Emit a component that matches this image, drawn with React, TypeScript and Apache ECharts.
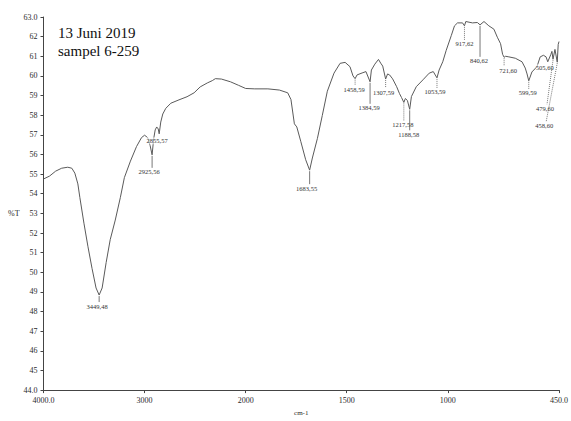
import React, { useEffect, useRef } from "react";
import * as echarts from "echarts";

// Infrared spectrum, transmittance (%T) against wavenumber (cm-1).
const spectrumWavenumbers = [
  4000, 3940, 3880, 3820, 3760, 3720, 3690, 3660, 3640, 3600, 3560, 3520, 3480,
  3420, 3380, 3340, 3290, 3240, 3200, 3140, 3080, 3030, 3000, 2970, 2945, 2910,
  2895, 2880, 2865, 2840, 2820, 2790, 2740, 2660, 2580, 2510, 2450, 2380, 2330,
  2300, 2240, 2150, 2070, 2000, 1955, 1890, 1833, 1792, 1776, 1759, 1747, 1727,
  1703, 1670, 1645, 1621, 1596, 1563, 1533, 1508, 1484, 1469, 1449, 1424, 1405,
  1378, 1361, 1343, 1332, 1322, 1298, 1288, 1273, 1253, 1239, 1229, 1210, 1200,
  1180, 1156, 1123, 1092, 1072, 1043, 1025, 1008, 983, 967, 952, 927, 911, 878,
  854, 821, 797, 772, 755, 739, 729, 714, 698, 666, 633, 617, 608, 584, 559, 543,
  527, 514, 490, 485, 470, 454, 450,
];
const spectrumTransmittance = [
  54.75, 54.9, 55.15, 55.3, 55.35, 55.3, 55.05, 54.5, 53.8, 52.5, 51.3, 50.2, 49.2,
  49.2, 50.5, 51.66, 52.66, 53.8, 54.82, 55.66, 56.4, 56.86, 56.98, 56.86, 56.45, 56.8,
  57.25, 57.4, 57.3, 57.65, 58.06, 58.35, 58.61, 58.78, 58.94, 59.14, 59.44, 59.64, 59.76,
  59.86, 59.84, 59.7, 59.52, 59.36, 59.34, 59.34, 59.28, 59.14, 58.8, 57.56, 57.4, 56.65,
  55.73, 55.82, 56.82, 57.98, 59.22, 60.14, 60.64, 60.69, 60.47, 60.0, 60.05, 60.15, 60.22,
  60.3, 60.6, 60.84, 60.65, 60.5, 60.1, 60.05, 59.85, 59.45, 59.1, 58.9, 58.85, 58.75,
  58.95, 59.45, 59.8, 60.14, 60.22, 60.3, 60.72, 61.3, 62.05, 62.55, 62.7, 62.7, 62.77, 62.7,
  62.72, 62.77, 62.55, 62.38, 61.97, 61.64, 61.1, 61.0, 60.97, 60.9, 60.72, 60.4, 60.1, 60.2, 60.47, 60.97,
  61.05, 60.97, 61.1, 61.25, 61.35, 61.6, 61.75,
];

// Picked peaks
const peakWavenumbers = [
  3449.48, 2925.56, 2855.57, 1683.55, 1458.59, 1384.59, 1307.59, 1217.58, 1188.58,
  1053.59, 917.62, 840.62, 721.6, 599.59, 505.6, 479.6, 458.6,
];
const peakTransmittance = [
  48.84, 55.98, 57.05, 55.2, 59.86, 59.7, 59.84, 58.65, 58.3,
  59.9, 62.55, 62.6, 60.95, 59.75, 60.72, 60.85, 60.7,
];

// Where each peak label sits relative to its peak, and how it is tied to it
const peakLabelLayout: [number, number, string][] = [
  [-2, 11, "solid"],
  [-3, 17, "solid"],
  [-2, 7, "none"],
  [-3, 18, "solid"],
  [-1, 11, "dotted"],
  [-1, 26, "solid"],
  [-2, 13, "dotted"],
  [-1, 22, "dotted"],
  [-1, 25, "solid"],
  [-2, 14, "dotted"],
  [0, 18, "dotted"],
  [-1, 36, "solid"],
  [4, 13, "dotted"],
  [-1, 12, "dotted"],
  [-3, 6, "none"],
  [-8, 49, "diag"],
  [-13, 63, "diag"],
];

const xTickWavenumbers = [4000, 3000, 2000, 1500, 1000, 450];
const xTickLabels = ["4000.0", "3000", "2000", "1500", "1000", "450.0"];
const yMin = 44;
const yMax = 63;

// The scale is expanded two-fold below 2000 cm-1
const BREAK = 2000;
const EXPAND = 2;
const toAxis = (w: number) => (w >= BREAK ? 4000 - w : 4000 - BREAK + EXPAND * (BREAK - w));

const SERIF = "'Liberation Serif', 'DejaVu Serif', serif";
const INK = "#2b2b2b";

export default function App() {
  const ref = useRef<HTMLDivElement>(null);

  useEffect(() => {
    if (!ref.current) return;
    const chart = echarts.init(ref.current, undefined, { renderer: "svg" });

    const points: [number, number][] = spectrumWavenumbers.map((w, i) => [w, spectrumTransmittance[i]]);
    peakWavenumbers.forEach((w, i) => points.push([w, peakTransmittance[i]]));
    points.sort((a, b) => b[0] - a[0]);
    const lineData = points.map(([w, t]) => [toAxis(w), t]);

    const tickPositions = xTickWavenumbers.map(toAxis);
    const formatX = (v: number) => {
      const i = tickPositions.findIndex((p) => Math.abs(p - v) < 1e-6);
      return i >= 0 ? xTickLabels[i] : "";
    };

    chart.setOption({
      animation: false,
      backgroundColor: "#ffffff",
      grid: { left: 43.5, right: 7, top: 17, bottom: 22 },
      xAxis: {
        type: "value",
        min: 0,
        max: toAxis(450),
        name: "cm-1",
        nameLocation: "middle",
        nameGap: 18,
        nameTextStyle: { fontFamily: SERIF, fontSize: 7, color: INK },
        axisLine: { onZero: false, lineStyle: { color: "#444", width: 1 } },
        axisTick: { customValues: tickPositions, length: 3, lineStyle: { color: "#444" } },
        axisLabel: {
          customValues: tickPositions,
          formatter: formatX,
          fontFamily: SERIF,
          fontSize: 8,
          color: INK,
          margin: 6,
        },
        splitLine: { show: false },
      },
      yAxis: {
        type: "value",
        min: yMin,
        max: yMax,
        interval: 1,
        axisLine: { show: true, lineStyle: { color: "#444", width: 1 } },
        axisTick: { show: true, length: 3, lineStyle: { color: "#444" } },
        axisLabel: {
          formatter: (v: number) => (v === yMin || v === yMax ? v.toFixed(1) : String(v)),
          fontFamily: SERIF,
          fontSize: 8,
          color: INK,
          margin: 6,
          padding: [0, 0, 5, 0],
        },
        splitLine: { show: false },
      },
      graphic: [
        {
          type: "text",
          left: 58,
          top: 25,
          style: { text: "13 Juni 2019", font: `15px ${SERIF}`, fill: "#111" },
        },
        {
          type: "text",
          left: 58,
          top: 43,
          style: { text: "sampel 6-259", font: `15px ${SERIF}`, fill: "#111" },
        },
        {
          type: "text",
          left: 8,
          top: 209,
          style: { text: "%T", font: `8px ${SERIF}`, fill: INK },
        },
      ],
      series: [
        {
          type: "line",
          data: lineData,
          showSymbol: false,
          smooth: false,
          lineStyle: { color: "#5a5a5a", width: 1 },
          z: 2,
        },
        {
          type: "custom",
          data: peakWavenumbers.map((w, i) => [toAxis(w), peakTransmittance[i], i]),
          clip: false,
          z: 3,
          renderItem: (params: any, api: any) => {
            const idx = api.value(2);
            const [px, py] = api.coord([api.value(0), api.value(1)]);
            const [dx, dy, kind] = peakLabelLayout[idx];
            const text = peakWavenumbers[idx].toFixed(2).replace(".", ",");
            const lx = px + dx;
            const ly = py + dy;
            const children: any[] = [];
            if (kind !== "none") {
              const x2 = kind === "diag" ? lx + 2 : px;
              children.push({
                type: "line",
                shape: { x1: px, y1: py + 1, x2, y2: ly - 4 },
                style: {
                  stroke: "#555",
                  lineWidth: 0.8,
                  lineDash: kind === "solid" ? null : [1, 1],
                },
              });
            }
            children.push({
              type: "text",
              x: lx,
              y: ly,
              style: {
                text,
                fontFamily: SERIF,
                fontSize: 6.5,
                fill: "#333",
                align: "center",
                verticalAlign: "middle",
                backgroundColor: kind === "none" ? "rgba(255,255,255,0.6)" : undefined,
              },
            });
            return { type: "group", children };
          },
        },
      ],
    });

    return () => chart.dispose();
  }, []);

  return (
    <div
      ref={ref}
      style={{ position: "fixed", left: 0, top: 0, width: 571, height: 421, background: "#fff" }}
    />
  );
}
